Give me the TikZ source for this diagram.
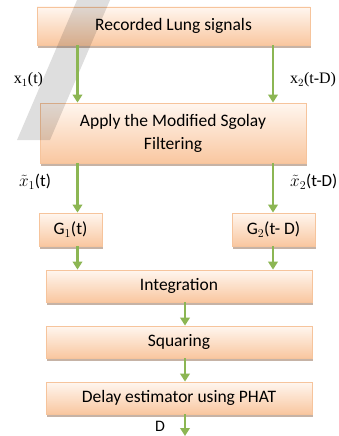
\documentclass[tikz,border=0pt]{standalone}
\usepackage{fontspec}
\setmainfont{Carlito}
\newfontfamily\serifx{Liberation Serif}
\usetikzlibrary{arrows.meta,shadows}
\definecolor{boxtop}{HTML}{FFF6EF}
\definecolor{boxbot}{HTML}{F9C7A0}
\definecolor{boxline}{HTML}{F6C49C}
\definecolor{shadowc}{HTML}{B8A090}
\definecolor{arrowc}{HTML}{8CB653}
\tikzset{
  blk/.style={draw=boxline, line width=0.8pt, top color=boxtop, bottom color=boxbot,
    inner sep=0pt, align=center, font=\fontsize{17.5}{23}\selectfont,
    drop shadow={shadow xshift=1pt, shadow yshift=-3pt, fill=shadowc, opacity=0.8}},
  arr/.style={draw=arrowc, line width=2.6pt, -{Triangle[width=9.5pt,length=8pt]}},
  sig/.style={font=\serifx\fontsize{16}{18}\selectfont, inner sep=0pt},
  sigm/.style={font=\fontsize{17}{19}\selectfont, inner sep=0pt}
}
\begin{document}
\begin{tikzpicture}[x=1pt,y=-1pt]
\useasboundingbox (0,0) rectangle (339,436);
\fill[white] (0,0) rectangle (339,436);
\coordinate (L) at (77.5,0);
\coordinate (R) at (273,0);
\coordinate (C) at (185,0);
\coordinate (Dend) at (185,436);
\node[blk, minimum width=273pt, minimum height=38pt] (b1) at (173.5,26) {Recorded Lung signals};
\node[blk, minimum width=266pt, minimum height=60pt] (b2) at (173,133) {Apply the Modified Sgolay\\Filtering};
\node[blk, minimum width=63pt, minimum height=33pt] (g1) at (70.5,229.5) {G$_1$(t)};
\node[blk, minimum width=83pt, minimum height=33pt] (g2) at (273.5,229.5) {G$_2$(t- D)};
\node[blk, minimum width=266pt, minimum height=32pt] (b3) at (179,286) {Integration};
\node[blk, minimum width=266pt, minimum height=32pt] (b4) at (179,342) {Squaring};
\node[blk, minimum width=266pt, minimum height=32pt] (b5) at (179,398) {Delay estimator using PHAT};
\fill[black, opacity=0.13] (77,0) -- (110,0) -- (50,140) -- (17,140) -- cycle;
\draw[arr] (b1.south -| L) -- (b2.north -| L);
\draw[arr] (b1.south -| R) -- (b2.north -| R);
\draw[arr] (b2.south -| L) -- (g1.north -| L);
\draw[arr] (b2.south -| R) -- (g2.north -| R);
\draw[arr] (g1.south -| L) -- (b3.north -| L);
\draw[arr] (g2.south -| R) -- (b3.north -| R);
\draw[arr] (b3.south -| C) -- (b4.north -| C);
\draw[arr] (b4.south -| C) -- (b5.north -| C);
\draw[arr] (b5.south -| C) -- (Dend);
\node[sig] (lx1) at (28.5,80) {x$_1$(t)};
\node[sig] (lx2) at (313,80) {x$_2$(t-D)};
\node[sigm] (lt1) at (35,182) {$\tilde{x}_1$(t)};
\node[sigm, anchor=west] (lt2) at (290,182) {$\tilde{x}_2$(t-D)};
\node[sigm, font=\fontsize{16}{18}\selectfont] (ld) at (160,426) {D};
\end{tikzpicture}
\end{document}
